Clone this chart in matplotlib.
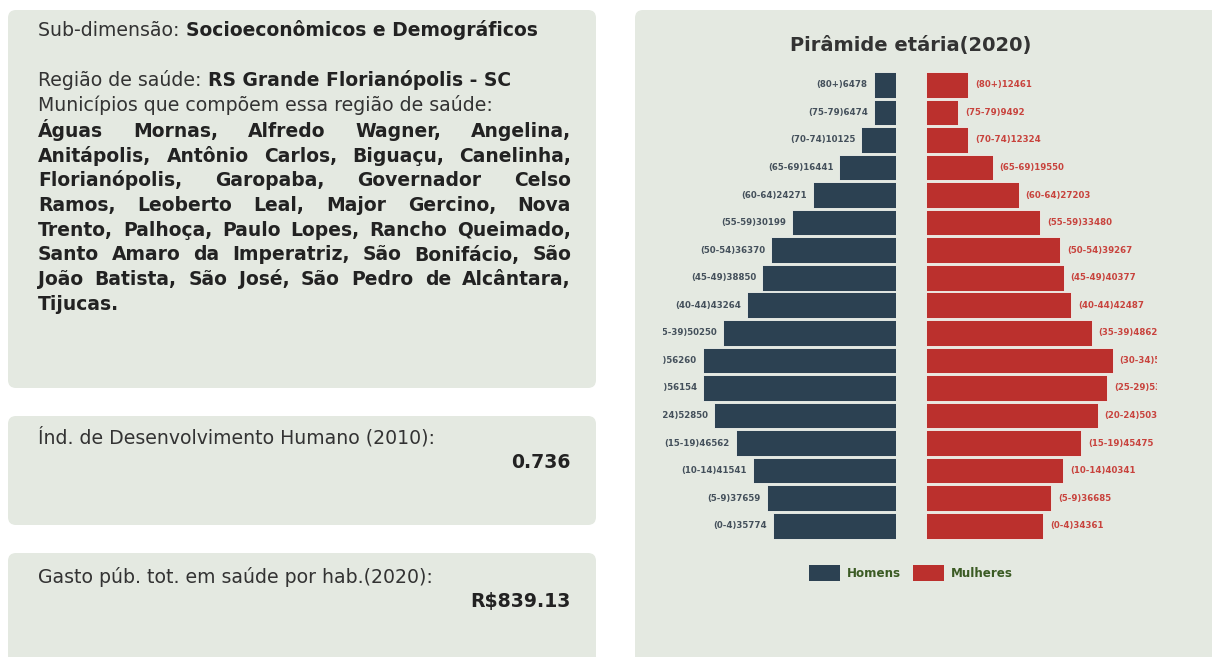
import matplotlib.pyplot as plt
from matplotlib.patches import FancyBboxPatch, Patch

# dados da pirâmide (de baixo para cima)
faixas = ["(0-4)", "(5-9)", "(10-14)", "(15-19)", "(20-24)", "(25-29)", "(30-34)",
          "(35-39)", "(40-44)", "(45-49)", "(50-54)", "(55-59)", "(60-64)",
          "(65-69)", "(70-74)", "(75-79)", "(80+)"]
homens = [35774, 37659, 41541, 46562, 52850, 56154, 56260, 50250, 43264,
          38850, 36370, 30199, 24271, 16441, 10125, 6474, 6478]
mulheres = [34361, 36685, 40341, 45475, 50338, 53240, 54810, 48625, 42487,
            40377, 39267, 33480, 27203, 19550, 12324, 9492, 12461]

municipios = [
    "Águas Mornas, Alfredo Wagner, Angelina,",
    "Anitápolis, Antônio Carlos, Biguaçu, Canelinha,",
    "Florianópolis, Garopaba, Governador Celso",
    "Ramos, Leoberto Leal, Major Gercino, Nova",
    "Trento, Palhoça, Paulo Lopes, Rancho Queimado,",
    "Santo Amaro da Imperatriz, São Bonifácio, São",
    "João Batista, São José, São Pedro de Alcântara,",
    "Tijucas.",
]
idh = "0.736"
gasto = "R$839.13"

FUNDO = "#e4e9e1"
COR_H = "#2c4152"
COR_M = "#bb302d"
TXT = "#333333"
FONTE = "DejaVu Sans"

W, H = 1212, 657
fig = plt.figure(figsize=(W / 100, H / 100), dpi=100)
fig.patch.set_facecolor("white")
bg = fig.add_axes([0, 0, 1, 1])
bg.set_xlim(0, W)
bg.set_ylim(H, 0)
bg.axis("off")
rend = fig.canvas.get_renderer()

# caixas
for x0, y0, x1, y1 in [(8, 10, 596, 388), (8, 416, 596, 525), (8, 553, 596, 680), (635, 10, 1230, 680)]:
    bg.add_patch(FancyBboxPatch((x0, y0), x1 - x0, y1 - y0,
                                boxstyle="round,pad=0,rounding_size=8",
                                fc=FUNDO, ec="none"))


def largura(t):
    return t.get_window_extent(rend).width


def ajusta(texto, alvo, peso="normal"):
    # tamanho de fonte que dá a largura medida na referência
    t = bg.text(0, 0, texto, fontsize=10, fontweight=peso, family=FONTE)
    w = largura(t)
    t.remove()
    return 10 * alvo / w


CORPO = ajusta("Municípios que compõem essa região de saúde:", 455)
NEGRITO = ajusta("Socioeconômicos e Demográficos", 353, "bold")
VALOR = ajusta("R$839.13", 101, "bold")


def linha(x, y, partes):
    for s, peso in partes:
        t = bg.text(x, y, s, fontsize=CORPO if peso == "normal" else NEGRITO,
                    fontweight=peso, color=TXT if peso == "normal" else "#222222",
                    family=FONTE, va="baseline")
        x += largura(t)


def justificada(y, texto, x0=38, x1=571, ultima=False):
    palavras = texto.split(" ")
    ts = [bg.text(0, y, p, fontsize=NEGRITO, fontweight="bold", color="#222222",
                  family=FONTE, va="baseline") for p in palavras]
    ws = [largura(t) for t in ts]
    if ultima or len(ts) == 1:
        gap = 6
    else:
        gap = (x1 - x0 - sum(ws)) / (len(ts) - 1)
    x = x0
    for t, w in zip(ts, ws):
        t.set_x(x)
        x += w + gap


linha(38, 36, [("Sub-dimensão: ", "normal"), ("Socioeconômicos e Demográficos", "bold")])
linha(38, 86, [("Região de saúde: ", "normal"), ("RS Grande Florianópolis - SC", "bold")])
linha(38, 111, [("Municípios que compõem essa região de saúde:", "normal")])
for i, s in enumerate(municipios):
    justificada(137 + 24.7 * i, s, ultima=(i == len(municipios) - 1))

linha(38, 444, [("Índ. de Desenvolvimento Humano (2010):", "normal")])
bg.text(571, 468, idh, fontsize=VALOR, fontweight="bold", color="#222222",
        family=FONTE, ha="right", va="baseline")
linha(38, 583, [("Gasto púb. tot. em saúde por hab.(2020):", "normal")])
bg.text(571, 607, gasto, fontsize=VALOR, fontweight="bold", color="#222222",
        family=FONTE, ha="right", va="baseline")

# pirâmide
bg.text(911, 46, "Pirâmide etária(2020)", fontsize=ajusta("Pirâmide etária(2020)", 242, "bold"),
        fontweight="bold", color=TXT, family=FONTE, ha="center", va="center")

top, bot = 71, 539.5
axh = fig.add_axes([663 / W, 1 - bot / H, (896 - 663) / W, (bot - top) / H])
axm = fig.add_axes([926 / W, 1 - bot / H, (1157 - 926) / W, (bot - top) / H])
y = range(len(faixas))
axh.barh(y, homens, height=0.93, color=COR_H, edgecolor="#f2f4ef", linewidth=0.6)
axm.barh(y, mulheres, height=0.93, color=COR_M, edgecolor="#f2f4ef", linewidth=0.6)
axh.set_xlim(67800, 0)
axm.set_xlim(0, 67800)
for ax in (axh, axm):
    ax.set_ylim(-0.5, len(faixas) - 0.5)
    ax.axis("off")

ROT = ajusta("(80+)6478", 51, "bold")
for i, (f, v) in enumerate(zip(faixas, homens)):
    axh.annotate(f"{f}{v}", (v, i), xytext=(-6, 0), textcoords="offset pixels",
                 ha="right", va="center", fontsize=ROT, fontweight="bold",
                 color="#44505b", family=FONTE, annotation_clip=False, clip_on=True)
for i, (f, v) in enumerate(zip(faixas, mulheres)):
    axm.annotate(f"{f}{v}", (v, i), xytext=(7, 0), textcoords="offset pixels",
                 ha="left", va="center", fontsize=ROT, fontweight="bold",
                 color="#c8433d", family=FONTE, annotation_clip=False, clip_on=True)

fig.legend(handles=[Patch(fc=COR_H, label="Homens"), Patch(fc=COR_M, label="Mulheres")],
           loc="center", bbox_to_anchor=(911 / W, 1 - 573 / H), ncol=2, frameon=False,
           handlelength=2.6, handleheight=1.7, handletextpad=0.6, columnspacing=1.0,
           labelcolor="#3b5b24",
           prop={"family": FONTE, "weight": "bold", "size": ajusta("Mulheres", 62, "bold")})

fig.savefig("out.png", dpi=100, facecolor="white")
